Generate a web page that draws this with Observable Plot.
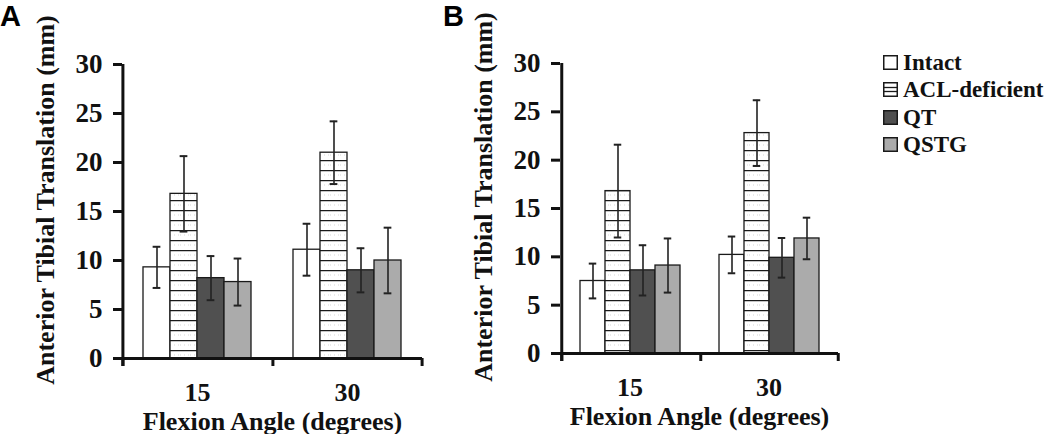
<!DOCTYPE html>
<html>
<head>
<meta charset="utf-8">
<script src="https://cdn.jsdelivr.net/npm/d3@7"></script>
<script src="https://cdn.jsdelivr.net/npm/@observablehq/plot@0.6"></script>
<style>
  html, body { margin: 0; padding: 0; background: #fff; }
  #wrap { position: relative; width: 1050px; height: 434px; overflow: hidden; background: #fff;
          font-family: "Liberation Serif", "Times New Roman", serif; font-weight: bold; color: #111; }
  .panel { position: absolute; top: 0; }
  .letter { position: absolute; top: 0px; font: bold 29px/33px "Liberation Sans", Arial, sans-serif; color: #000; }
  .ytitle { position: absolute; white-space: nowrap; font-size: 26px; line-height: 30px;
            transform: translate(-50%, -50%) rotate(-90deg); }
  .legend { position: absolute; left: 883px; top: 48.5px; font-size: 23px; line-height: 27.5px; }
  .legend div { white-space: nowrap; }
  .legend svg { vertical-align: baseline; margin-right: 5px; }
</style>
</head>
<body>
<div id="wrap"></div>
<svg width="0" height="0" style="position:absolute">
  <defs>
    <pattern id="hlines" patternUnits="userSpaceOnUse" width="10" height="10">
      <rect width="10" height="10" fill="#fff"></rect>
      <line x1="0" x2="10" y1="0.6" y2="0.6" stroke="#1a1a1a" stroke-width="1.3"></line>
      <line x1="0" x2="10" y1="5" y2="5" stroke="#bbb" stroke-width="0.6" stroke-dasharray="1,3"></line>
    </pattern>
  </defs>
</svg>
<script>
// ---- data ----
const conditions = ["Intact", "ACL-deficient", "QT", "QSTG"];
const angles = ["15", "30"];
const yTicks = [0, 5, 10, 15, 20, 25, 30];

// Panel A (means and SD, mm)
const panelA_mean15 = [9.3, 16.8, 8.2, 7.8];
const panelA_sd15   = [2.1, 3.85, 2.25, 2.4];
const panelA_mean30 = [11.1, 21.0, 9.0, 10.0];
const panelA_sd30   = [2.65, 3.2, 2.25, 3.35];

// Panel B (means and SD, mm)
const panelB_mean15 = [7.5, 16.8, 8.6, 9.1];
const panelB_sd15   = [1.8, 4.8, 2.6, 2.8];
const panelB_mean30 = [10.2, 22.8, 9.9, 11.9];
const panelB_sd30   = [1.9, 3.4, 2.05, 2.15];

const yTitle = "Anterior Tibial Translation (mm)";
const xTitle = "Flexion Angle (degrees)";

// ---- styles ----
const fills = {"Intact": "#ffffff", "ACL-deficient": "url(#hlines)", "QT": "#505050", "QSTG": "#ababab"};
const ink = "#111";

function rowsFrom(m15, s15, m30, s30) {
  const rows = [];
  conditions.forEach((c, i) => rows.push({angle: "15", cond: c, mean: m15[i], sd: s15[i]}));
  conditions.forEach((c, i) => rows.push({angle: "30", cond: c, mean: m30[i], sd: s30[i]}));
  return rows;
}

function panel(rows, cfg) {
  const {width, marginLeft, marginRight, marginTop, marginBottom, paddingOuter} = cfg;
  const band = (width - marginLeft - marginRight) / angles.length;
  const step = band / (conditions.length + 2 * paddingOuter);
  const edge = (paddingOuter + 0.5) * step;
  const capInset = (step - 8) / 2;
  return Plot.plot({
    width, height: 434, marginLeft, marginRight, marginTop, marginBottom,
    style: {fontFamily: "Liberation Serif, Times New Roman, serif", fontWeight: "bold", fontSize: "26px", color: ink, background: "transparent", overflow: "visible"},
    fx: {domain: angles, padding: 0, axis: null},
    x: {domain: conditions, paddingInner: 0, paddingOuter, axis: null},
    y: {domain: [0, 30], axis: null},
    marks: [
      ...conditions.map(c => Plot.barY(rows, {filter: d => d.cond === c, fx: "angle", x: "cond", y: "mean",
        fill: fills[c], stroke: "#1a1a1a", strokeWidth: 1.3})),
      Plot.ruleX(rows, {fx: "angle", x: "cond", y1: d => d.mean - d.sd, y2: d => d.mean + d.sd, stroke: "#222", strokeWidth: 1.6}),
      Plot.tickY(rows, {fx: "angle", x: "cond", y: d => d.mean - d.sd, insetLeft: capInset, insetRight: capInset, stroke: "#222", strokeWidth: 2}),
      Plot.tickY(rows, {fx: "angle", x: "cond", y: d => d.mean + d.sd, insetLeft: capInset, insetRight: capInset, stroke: "#222", strokeWidth: 2}),
      // axis lines
      Plot.ruleY([0], {stroke: ink, strokeWidth: 3, insetLeft: -9}),
      Plot.ruleX([angles[0]], {fx: d => d, x: () => conditions[0], dx: -edge, y1: 30, y2: 0, insetBottom: -8, stroke: ink, strokeWidth: 3}),
      Plot.ruleX(angles, {fx: d => d, x: () => conditions[0], dx: -edge, y1: 0, y2: 0, insetBottom: -8, stroke: ink, strokeWidth: 3}),
      Plot.ruleX([angles[angles.length - 1]], {fx: d => d, x: () => conditions[conditions.length - 1], dx: edge, y1: 0, y2: 0, insetBottom: -8, stroke: ink, strokeWidth: 3}),
      Plot.axisY({ticks: yTicks, tickSize: 9, tickPadding: 11, strokeWidth: 3, stroke: ink, fontSize: 27, fontWeight: "bold", label: null}),
      Plot.axisFx({anchor: "bottom", tickSize: 0, tickPadding: 24, fontSize: 26, fontWeight: "bold",
        label: xTitle, labelAnchor: "center", labelArrow: "none", labelOffset: 71})
    ]
  });
}

const wrap = document.getElementById("wrap");

const a = panel(rowsFrom(panelA_mean15, panelA_sd15, panelA_mean30, panelA_sd30),
  {width: 440, marginLeft: 122, marginRight: 18, marginTop: 64, marginBottom: 76, paddingOuter: 0.75});
a.classList.add("panel"); a.style.left = "0px";
wrap.appendChild(a);

const b = panel(rowsFrom(panelB_mean15, panelB_sd15, panelB_mean30, panelB_sd30),
  {width: 420, marginLeft: 120, marginRight: 22, marginTop: 63, marginBottom: 81, paddingOuter: 0.725});
b.classList.add("panel"); b.style.left = "440px";
wrap.appendChild(b);

function addDiv(cls, text, css) {
  const d = document.createElement("div");
  d.className = cls; d.textContent = text;
  Object.assign(d.style, css);
  wrap.appendChild(d);
  return d;
}
addDiv("ytitle", yTitle, {left: "46px", top: "200px"});
addDiv("ytitle", yTitle, {left: "484px", top: "197px"});
addDiv("letter", "A", {left: "0px"});
addDiv("letter", "B", {left: "443px"});

// legend
const legend = document.createElement("div");
legend.className = "legend";
const swatch = {
  "Intact": '<rect x="0.75" y="0.75" width="13.5" height="13.5" fill="#fff" stroke="#1a1a1a" stroke-width="1.5"/>',
  "ACL-deficient": '<rect x="0.75" y="0.75" width="13.5" height="13.5" fill="#fff" stroke="#1a1a1a" stroke-width="1.5"/><line x1="1" x2="14" y1="5.5" y2="5.5" stroke="#1a1a1a" stroke-width="1.3"/><line x1="1" x2="14" y1="9.5" y2="9.5" stroke="#1a1a1a" stroke-width="1.3"/>',
  "QT": '<rect x="0.75" y="0.75" width="13.5" height="13.5" fill="#505050" stroke="#1a1a1a" stroke-width="1.5"/>',
  "QSTG": '<rect x="0.75" y="0.75" width="13.5" height="13.5" fill="#ababab" stroke="#1a1a1a" stroke-width="1.5"/>'
};
conditions.forEach(c => {
  const row = document.createElement("div");
  row.innerHTML = `<svg width="15" height="15">${swatch[c]}</svg>`;
  row.appendChild(document.createTextNode(c));
  legend.appendChild(row);
});
wrap.appendChild(legend);
</script>
</body>
</html>
